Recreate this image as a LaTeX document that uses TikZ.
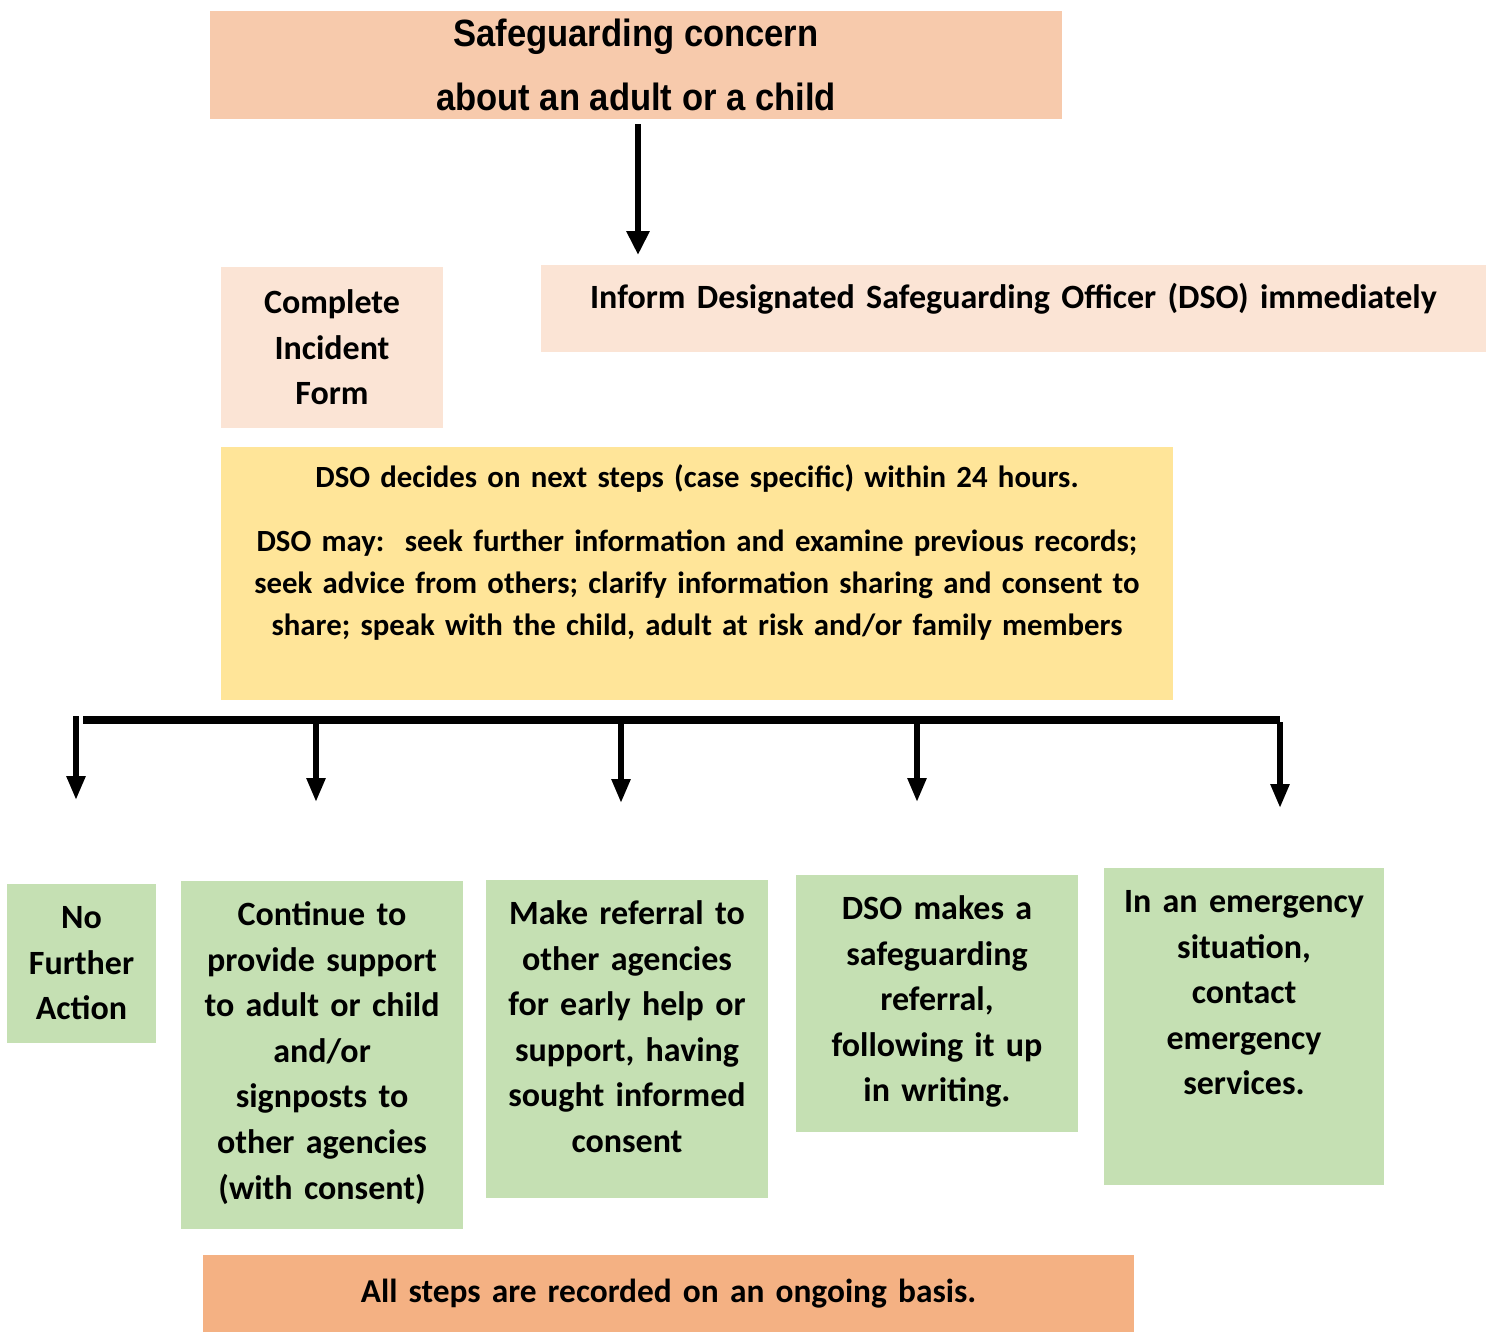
\documentclass[tikz,border=0pt]{standalone}
\usepackage{fontspec}
\usepackage{xcolor}
\usepackage{tikz}
\usetikzlibrary{arrows.meta}
\setmainfont{Carlito}
\newfontfamily\narrowfont[FakeStretch=0.91]{Liberation Sans}
\definecolor{concernpeach}{HTML}{F7CAAC}
\definecolor{informpink}{HTML}{FBE4D5}
\definecolor{dsoyellow}{HTML}{FFE599}
\definecolor{actiongreen}{HTML}{C5E0B3}
\definecolor{recordorange}{HTML}{F4B183}
\tikzset{
	box/.style={rectangle, inner sep=0pt, align=center, font=\bfseries\fontsize{17}{22.8}\selectfont},
	action/.style={box, anchor=north, fill=actiongreen, text height=22pt},
	branch/.style={line width=2.8pt, -{Triangle[width=9pt, length=12pt]}},
}

\begin{document}
\frenchspacing
\begin{tikzpicture}[x=0.5pt, y=-0.5pt]
		\useasboundingbox (0,0) rectangle (1486,1332);
		\path (636,65) node[box, fill=concernpeach, text width=426pt, minimum height=54pt, font=\narrowfont\bfseries\fontsize{19}{32}\selectfont] (concern) {\spaceskip=4.8pt\relax Safeguarding concern\\about an adult or a child};
		\path (332,347.5) node[box, fill=informpink, text width=111pt, minimum height=80.5pt] (incident) {Complete\\Incident\\Form};
		\path (1013.5,265) node[box, anchor=north, fill=informpink, text width=472.5pt, text height=21.5pt, text depth=22pt] (inform) {Inform Designated Safeguarding Officer (DSO) immediately};
		\path [draw, line width=3pt, -{Triangle[width=11pt, length=12pt]}, shorten <=2.5pt, shorten >=5pt] ([xshift=1pt]concern.south) -- ([xshift=1pt]concern.south |- inform.north);

		\path (697,447) node[box, anchor=north, fill=dsoyellow, text width=476pt, text height=20pt, text depth=106.5pt, font=\bfseries\fontsize{15.4}{21}\selectfont] (decide) {DSO decides on next steps (case specific) within 24 hours.\\[11pt]DSO may:\ \ seek further information and examine previous records;\\seek advice from others; clarify information sharing and consent to\\share; speak with the child, adult at risk and/or family members};

		\path (81.5,884) node[action, text width=74.5pt, text depth=57.5pt] (none) {No\\Further\\Action};
		\path (322,881) node[action, text width=141pt, text depth=152pt] (support) {Continue to\\provide support\\to adult or child\\and/or\\signposts to\\other agencies\\(with consent)};
		\path (627,880) node[action, text width=141pt, text depth=137pt] (referral) {Make referral to\\other agencies\\for early help or\\support, having\\sought informed\\consent};
		\path (937,875) node[action, text width=141pt, text depth=106.5pt] (dsoref) {DSO makes a\\safeguarding\\referral,\\following it up\\in writing.};
		\path (1244,868) node[action, text width=140pt, text depth=136.5pt] (emergency) {In an emergency\\situation,\\contact\\emergency\\services.};

		\path (668.5,1293.5) node[box, fill=recordorange, text width=465.5pt, minimum height=38.5pt, font=\bfseries\fontsize{16.7}{22.8}\selectfont] (record) {All steps are recorded on an ongoing basis.};

		\coordinate (split west) at (83,720);
		\coordinate (split east) at (1280,720);
		\path [draw, line width=3.9pt] (split west) -- (split east);
		\coordinate (b1) at (76,716);
		\coordinate (b2) at (316,720);
		\coordinate (b3) at (621,720);
		\coordinate (b4) at (917,720);
		\coordinate (b5) at (1280,722);
		\path [draw, branch, shorten >=42pt] (b1) -- (b1 |- none.north);
		\path [draw, branch, shorten >=39.5pt] (b2) -- (b2 |- support.north);
		\path [draw, branch, shorten >=38.5pt] (b3) -- (b3 |- referral.north);
		\path [draw, branch, shorten >=36.5pt] (b4) -- (b4 |- dsoref.north);
		\path [draw, branch, shorten >=30pt] (b5) -- (b5 |- emergency.north);
	\end{tikzpicture}
\end{document}
